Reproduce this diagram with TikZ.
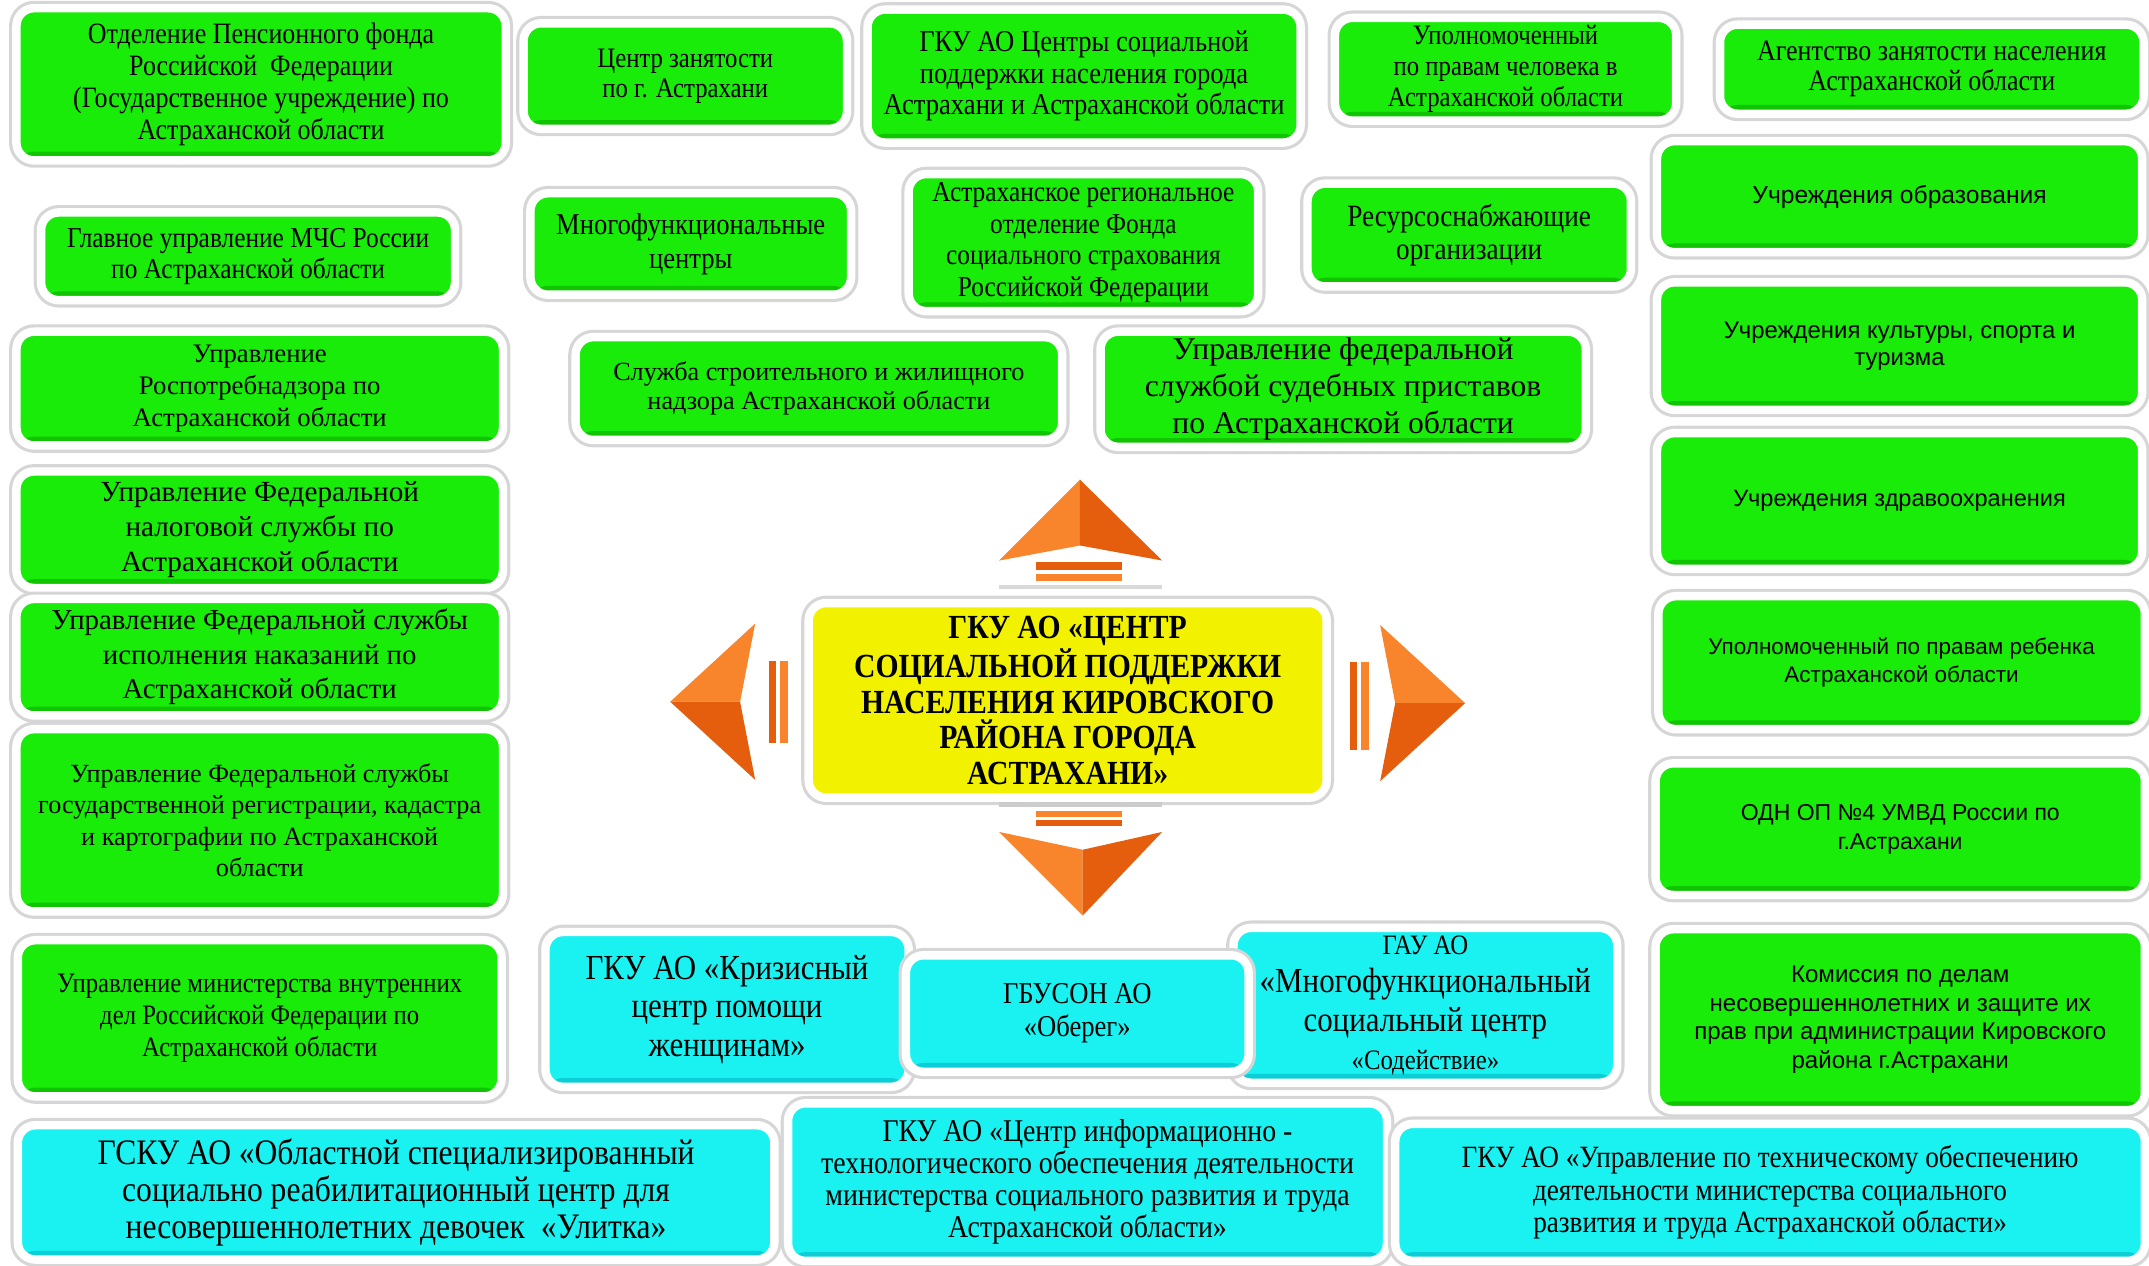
\documentclass[tikz,border=0pt]{standalone}
\usepackage{fontspec}
\setmainfont{Liberation Serif}
\setsansfont{Liberation Sans}
\newfontfamily\narrowserif[FakeStretch=0.88]{Liberation Serif}
\definecolor{boxgreen}{RGB}{24,236,8}
\definecolor{boxgreendark}{RGB}{16,196,0}
\definecolor{boxcyan}{RGB}{26,242,242}
\definecolor{boxcyandark}{RGB}{12,206,214}
\definecolor{boxyellow}{RGB}{242,242,0}
\definecolor{arrowlight}{RGB}{248,132,44}
\definecolor{arrowdark}{RGB}{228,94,14}
\definecolor{rimgray}{RGB}{214,214,214}
\newcommand{\pu}{0.013706cm}
\tikzset{
  orgbox/.style 2 args={rounded corners=5pt,inner sep=0pt,align=center,draw=white,line width=2.4pt,
    minimum width=#1*\pu,minimum height=#2*\pu,
    preaction={draw=rimgray,line width=4.2pt}},
  gbox/.style 2 args={orgbox={#1}{#2},fill=boxgreen,path picture={\fill[boxgreendark] ([yshift=2.5pt]path picture bounding box.south west) rectangle (path picture bounding box.south east);}},
  cbox/.style 2 args={orgbox={#1}{#2},fill=boxcyan,path picture={\fill[boxcyandark] ([yshift=2.5pt]path picture bounding box.south west) rectangle (path picture bounding box.south east);}},
  ybox/.style 2 args={orgbox={#1}{#2},fill=boxyellow},
}
\newcommand{\nfs}[2]{\narrowserif\fontsize{#1}{#2}\selectfont}
\newcommand{\rfs}[2]{\rmfamily\fontsize{#1}{#2}\selectfont}
\newcommand{\sfs}[2]{\sffamily\fontsize{#1}{#2}\selectfont}
\begin{document}
\begin{tikzpicture}[x=\pu,y=-\pu,line join=round]
\useasboundingbox (0,0) rectangle (1568,923);
% top rows
\node[gbox={357}{111},font=\nfs{8.4}{9.1}] (pension) at (190.5,61.5) {Отделение Пенсионного фонда\\Российской~ Федерации\\(Государственное учреждение) по\\Астраханской области};
\node[gbox={236}{77},font=\nfs{8}{8.6}] (czn) at (500,55.5) {Центр занятости\\по г. Астрахани};
\node[gbox={316}{97},font=\nfs{8.6}{9}] (gkucsp) at (791,55.5) {ГКУ АО Центры социальной\\поддержки населения города\\Астрахани и Астраханской области};
\node[gbox={249}{75},font=\nfs{8}{8.8}] (ombudsman) at (1098.5,50.5) {Уполномоченный\\по правам человека в\\Астраханской области};
\node[gbox={309}{65},font=\nfs{8.4}{8.6}] (agentstvo) at (1409.5,50.5) {Агентство занятости населения\\Астраханской области};
\node[gbox={302}{64},font=\nfs{8.2}{8.9}] (mchs) at (181,187) {Главное управление МЧС России\\по Астраханской области};
\node[gbox={234}{74},font=\nfs{8.6}{9.7}] (mfc) at (504,178) {Многофункциональные\\центры};
\node[gbox={255}{100},font=\nfs{8.2}{9}] (fss) at (790.5,177) {Астраханское региональное\\отделение Фонда\\социального страхования\\Российской Федерации};
\node[gbox={236}{75},font=\nfs{8.8}{9.3}] (resurs) at (1072,171.5) {Ресурсоснабжающие\\организации};
\node[gbox={354}{81},font=\sfs{7}{8}] (edu) at (1386,143.5) {Учреждения образования};
\node[gbox={354}{93},font=\sfs{6.8}{7.8}] (culture) at (1386,252.5) {Учреждения культуры, спорта и\\туризма};
\node[gbox={355}{83},font=\rfs{7.6}{9}] (rospotreb) at (189.5,283.5) {Управление\\Роспотребнадзора по\\Астраханской области};
\node[gbox={355}{75},font=\rfs{7.45}{8.4}] (stroy) at (597.5,283.5) {Служба строительного и жилищного\\надзора Астраханской области};
\node[gbox={354}{84},font=\rfs{9}{10.5}] (fssp) at (980,284) {Управление федеральной\\службой судебных приставов\\по Астраханской области};
% middle
\node[gbox={355}{85},font=\rfs{8.3}{10}] (fns) at (189.5,386.5) {Управление Федеральной\\налоговой службы по\\Астраханской области};
\node[gbox={354}{99},font=\sfs{6.7}{8}] (health) at (1386,365.5) {Учреждения здравоохранения};
\node[gbox={355}{85},font=\rfs{8.2}{9.8}] (fsin) at (189.5,479.5) {Управление Федеральной службы\\исполнения наказаний по\\Астраханской области};
\node[ybox={378}{142},font=\nfs{9.6}{10.1}\bfseries] (centre) at (779,511) {ГКУ АО «ЦЕНТР\\СОЦИАЛЬНОЙ ПОДДЕРЖКИ\\НАСЕЛЕНИЯ КИРОВСКОГО\\РАЙОНА ГОРОДА\\АСТРАХАНИ»};
\node[gbox={355}{97},font=\sfs{6.4}{7.8}] (childrights) at (1387.5,483.5) {Уполномоченный по правам ребенка\\Астраханской области};
\node[gbox={355}{133},font=\rfs{7.45}{8.9}] (rosreestr) at (189.5,598.5) {Управление Федеральной службы\\государственной регистрации, кадастра\\и картографии по Астраханской\\области};
\node[gbox={357}{96},font=\sfs{6.55}{8.2}] (odn) at (1386.5,605) {ОДН ОП №4 УМВД России по\\г.Астрахани};
% bottom rows
\node[gbox={353}{114},font=\nfs{8}{9}] (mvd) at (189.5,743) {Управление министерства внутренних\\дел Российской Федерации по\\Астраханской области};
\node[cbox={265}{113},font=\nfs{10}{10.9}] (crisis) at (530.5,736.5) {ГКУ АО «Кризисный\\центр помощи\\женщинам»};
\node[cbox={280}{113},font=\nfs{10}{10.9}] (gau) at (1040,733.5) {{\fontsize{8}{9}\selectfont ГАУ АО}\\«Многофункциональный\\социальный центр\\{\fontsize{8}{8.5}\selectfont «Содействие»}};
\node[cbox={250}{85},font=\nfs{8.6}{9.4}] (obereg) at (786,739.5) {ГБУСОН АО\\«Оберег»};
\node[gbox={357}{132},font=\sfs{6.85}{8.1}] (kdn) at (1386.5,744) {Комиссия по делам\\несовершеннолетних и защите их\\прав при администрации Кировского\\района г.Астрахани};
\node[cbox={552}{98},font=\nfs{10.2}{10.5}] (ulitka) at (289,870) {ГСКУ АО «Областной специализированный\\социально реабилитационный центр для\\несовершеннолетних девочек~ «Улитка»};
\node[cbox={437}{115},font=\nfs{9}{9.1}] (cito) at (793.5,862.5) {ГКУ АО «Центр информационно -\\технологического обеспечения деятельности\\министерства социального развития и труда\\Астраханской области»};
\node[cbox={547}{100},font=\nfs{8.8}{9.3}] (techsupport) at (1291.5,870) {ГКУ АО «Управление по техническому обеспечению\\деятельности министерства социального\\развития и труда Астраханской области»};
% orange arrows round the centre
\fill[arrowdark] (756,410) rectangle (819,416);
\fill[arrowlight] (756,419) rectangle (819,424);
\fill[black!15] (729,427) rectangle (848,430);
\fill[arrowlight] (788,350) -- (729,409) -- (788,398) -- cycle;
\fill[arrowdark] (788,350) -- (788,398) -- (848,409) -- cycle;
\fill[black!20] (729,585) rectangle (848,589);
\fill[arrowlight] (756,592) rectangle (819,596);
\fill[arrowdark] (756,598) rectangle (819,603);
\fill[arrowlight] (790,668) -- (729,607) -- (790,620) -- cycle;
\fill[arrowdark] (790,668) -- (790,620) -- (848,607) -- cycle;
\fill[arrowdark] (561,482) rectangle (566,542);
\fill[arrowlight] (569,482) rectangle (575,542);
\fill[arrowlight] (489,512) -- (551,455) -- (540,512) -- cycle;
\fill[arrowdark] (489,512) -- (540,512) -- (551,569) -- cycle;
\fill[arrowdark] (985,483) rectangle (990,547);
\fill[arrowlight] (993,483) rectangle (999,547);
\fill[arrowlight] (1069,513) -- (1007,456) -- (1018,513) -- cycle;
\fill[arrowdark] (1069,513) -- (1018,513) -- (1007,570) -- cycle;
\end{tikzpicture}
\end{document}
